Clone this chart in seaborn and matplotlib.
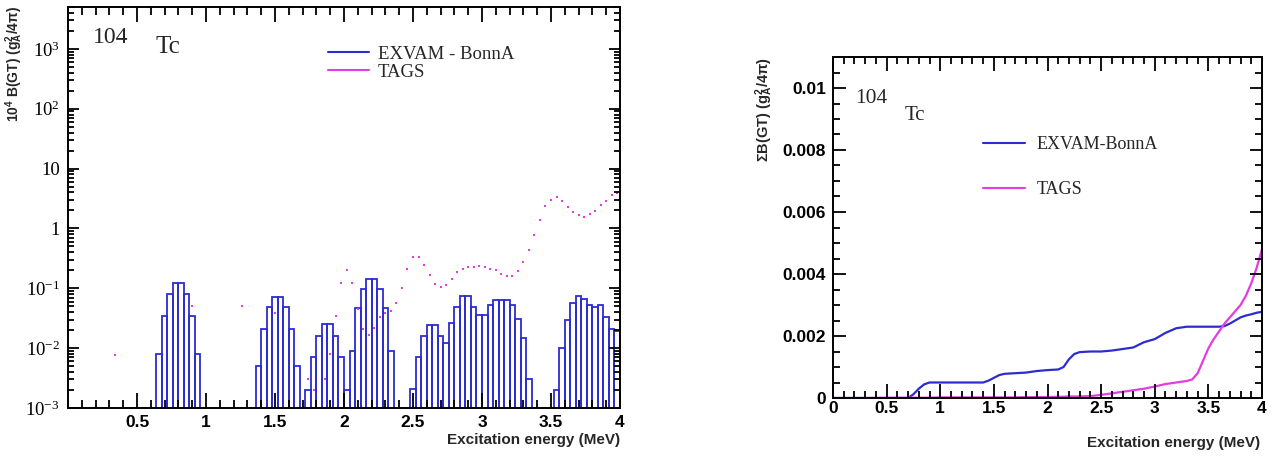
import numpy as np
import pandas as pd
import matplotlib
matplotlib.use("Agg")
import matplotlib.pyplot as plt
from matplotlib.lines import Line2D
from matplotlib.ticker import MultipleLocator, LogLocator, NullFormatter
import seaborn as sns

# EXVAM - BonnA: 10^4 B(GT) per 0.04 MeV bin (bin lower edges in MeV)
exvam_bin_lo = [0.64, 0.68, 0.72, 0.76, 0.80, 0.84, 0.88, 0.92,
                1.36, 1.40, 1.44, 1.48, 1.52, 1.56, 1.60, 1.64,
                1.72, 1.76, 1.80, 1.84, 1.88, 1.92, 1.96, 2.00,
                2.04, 2.08, 2.12, 2.16, 2.20, 2.24, 2.28, 2.32,
                2.48, 2.52, 2.56, 2.60, 2.64, 2.68, 2.72, 2.76, 2.80, 2.84, 2.88,
                2.92, 2.96, 3.00, 3.04, 3.08, 3.12, 3.16, 3.20, 3.24, 3.28, 3.32,
                3.52, 3.56, 3.60, 3.64, 3.68, 3.72, 3.76, 3.80, 3.84, 3.88, 3.92, 3.96]
exvam_bgt = [0.0079, 0.035, 0.080, 0.122, 0.122, 0.080, 0.035, 0.0079,
             0.005, 0.021, 0.048, 0.072, 0.072, 0.048, 0.021, 0.005,
             0.002, 0.007, 0.016, 0.025, 0.025, 0.016, 0.007, 0.002,
             0.0089, 0.046, 0.099, 0.145, 0.145, 0.099, 0.046, 0.0089,
             0.0021, 0.0072, 0.0158, 0.0248, 0.0248, 0.0158, 0.012, 0.026, 0.049, 0.0736, 0.0736,
             0.049, 0.036, 0.036, 0.052, 0.064, 0.064, 0.064, 0.052, 0.031, 0.015, 0.003,
             0.002, 0.0099, 0.030, 0.057, 0.0736, 0.065, 0.052, 0.048, 0.052, 0.033, 0.021, 0.0195]

# TAGS: 10^4 B(GT) at bin centres (MeV)
tags_e = [0.34, 0.90, 1.26, 1.50, 1.74, 1.78, 1.86, 1.90, 1.94, 1.98,
          2.02, 2.06, 2.10, 2.14, 2.18, 2.22, 2.26, 2.30, 2.34, 2.38,
          2.42, 2.46, 2.50, 2.54, 2.58, 2.62, 2.66, 2.70, 2.74, 2.78,
          2.82, 2.86, 2.90, 2.94, 2.98, 3.02, 3.06, 3.10, 3.14, 3.18,
          3.22, 3.26, 3.30, 3.34, 3.38, 3.42, 3.46, 3.50, 3.54, 3.58,
          3.62, 3.66, 3.70, 3.74, 3.78, 3.82, 3.86, 3.90, 3.94, 3.98]
tags_bgt = [0.0078, 0.050, 0.050, 0.038, 0.003, 0.002, 0.003, 0.0079, 0.034, 0.123,
            0.20, 0.123, 0.045, 0.0205, 0.0165, 0.0213, 0.0325, 0.039, 0.042, 0.057,
            0.103, 0.207, 0.333, 0.333, 0.248, 0.165, 0.120, 0.105, 0.115, 0.145,
            0.187, 0.213, 0.227, 0.227, 0.233, 0.227, 0.213, 0.200, 0.175, 0.158,
            0.158, 0.195, 0.275, 0.44, 0.79, 1.39, 2.33, 3.0, 3.33, 2.82,
            2.27, 1.87, 1.65, 1.58, 1.71, 1.94, 2.42, 2.86, 3.55, 3.88]

# Accumulated strength, sum B(GT) (g_A^2/4pi)
cum_e = [0.0, 0.3, 0.6, 0.7, 0.75, 0.8, 0.85, 0.9, 1.0, 1.2,
         1.4, 1.45, 1.5, 1.55, 1.6, 1.7, 1.8, 1.9, 2.0, 2.1,
         2.15, 2.2, 2.25, 2.3, 2.4, 2.5, 2.6, 2.7, 2.8, 2.9,
         3.0, 3.1, 3.2, 3.3, 3.35, 3.4, 3.45, 3.5, 3.55, 3.6,
         3.65, 3.7, 3.75, 3.8, 3.85, 3.9, 3.95, 4.0]
cum_exvam = [0.0, 0.0, 0.0, 0.0, 0.00012, 0.0003, 0.00044, 0.0005, 0.0005, 0.0005,
             0.0005, 0.00056, 0.00065, 0.00074, 0.00078, 0.0008, 0.00082, 0.00087, 0.0009, 0.00092,
             0.001, 0.00125, 0.00142, 0.00148, 0.0015, 0.0015, 0.00153, 0.00158, 0.00163, 0.0018,
             0.0019, 0.0021, 0.00225, 0.0023, 0.0023, 0.0023, 0.0023, 0.0023, 0.0023, 0.0023,
             0.00232, 0.0024, 0.0025, 0.0026, 0.00266, 0.0027, 0.00275, 0.00278]
cum_tags = [0.0, 0.0, 0.00001, 0.00001, 0.00001, 0.00001, 0.00001, 0.00001, 0.00002, 0.00002,
            0.00002, 0.00002, 0.00002, 0.00002, 0.00002, 0.00002, 0.00003, 0.00003, 0.00003, 0.00004,
            0.00004, 0.00005, 0.00005, 0.00005, 0.00006, 0.0001, 0.00015, 0.0002, 0.00025, 0.0003,
            0.00037, 0.00045, 0.0005, 0.00055, 0.0006, 0.0008, 0.0012, 0.0016, 0.0019, 0.00215,
            0.0024, 0.0026, 0.0028, 0.003, 0.0033, 0.0037, 0.0042, 0.0048]

left_yticks = [1e-3, 1e-2, 1e-1, 1, 10, 1e2, 1e3]
left_ylabels = ["$10^{-3}$", "$10^{-2}$", "$10^{-1}$", "1", "10", "$10^{2}$", "$10^{3}$"]
e_ticks = [0.5, 1.0, 1.5, 2.0, 2.5, 3.0, 3.5, 4.0]
e_labels = ["0.5", "1", "1.5", "2", "2.5", "3", "3.5", "4"]
right_yticks = [0.0, 0.002, 0.004, 0.006, 0.008, 0.01]
right_ylabels = ["0", "0.002", "0.004", "0.006", "0.008", "0.01"]

BLUE = "#2c2cd0"
MAGENTA = "#e23ce2"
SERIF = "Liberation Serif"

sns.set_theme(style="ticks")
plt.rcParams.update({
    "font.family": ["Liberation Sans", "DejaVu Sans"],
    "mathtext.fontset": "custom",
    "mathtext.rm": "Liberation Serif",
    "mathtext.it": "Liberation Serif:italic",
    "mathtext.bf": "Liberation Sans:bold",
    "mathtext.sf": "Liberation Sans",
    "axes.edgecolor": "black",
    "axes.linewidth": 1.4,
    "axes.axisbelow": False,
    "xtick.color": "black",
    "ytick.color": "black",
    "xtick.direction": "in",
    "ytick.direction": "in",
    "xtick.top": True,
    "ytick.right": True,
})

W, H = 1273, 457
fig = plt.figure(figsize=(W / 100, H / 100), dpi=100)
fig.patch.set_facecolor("white")


def axes_px(left, top, right, bottom):
    return fig.add_axes([left / W, 1 - bottom / H, (right - left) / W, (bottom - top) / H])


ax1 = axes_px(68, 7, 620, 408)
ax2 = axes_px(833, 57, 1262, 398)

# ---- left panel: strength distribution ----
bin_w = 0.04
edges = [round(v, 2) for v in np.arange(0.64, 4.0 + bin_w / 2, bin_w)]
hist_df = pd.DataFrame({"E": np.array(exvam_bin_lo) + bin_w / 2, "bgt": exvam_bgt})
ax1.set_yscale("log")
sns.histplot(data=hist_df, x="E", weights="bgt", bins=edges, element="bars",
             fill=False, color=BLUE, linewidth=1.3, ax=ax1)
sns.scatterplot(x=tags_e, y=tags_bgt, marker="s", s=4, color=MAGENTA,
                linewidth=0, legend=False, ax=ax1)

ax1.set_xlim(0, 4)
ax1.set_ylim(1e-3, 5e3)
ax1.set_xticks(e_ticks, e_labels, fontsize=12.5, fontweight="bold")
ax1.xaxis.set_minor_locator(MultipleLocator(0.1))
ax1.set_yticks(left_yticks, left_ylabels, fontsize=13.5, fontfamily=SERIF)
ax1.yaxis.set_minor_locator(LogLocator(base=10, subs=np.arange(2, 10), numticks=20))
ax1.yaxis.set_minor_formatter(NullFormatter())
ax1.set_xlabel("")
ax1.set_ylabel("")

ax1.text(0.045, 0.910, "104", transform=ax1.transAxes, fontfamily=SERIF,
         fontsize=17, va="baseline", ha="left")
ax1.text(0.158, 0.885, "Tc", transform=ax1.transAxes, fontfamily=SERIF,
         fontsize=18, va="baseline", ha="left")
ax1.legend(handles=[Line2D([], [], color=BLUE, lw=1.5), Line2D([], [], color=MAGENTA, lw=1.5)],
           labels=["EXVAM - BonnA", "TAGS"], loc="center left",
           bbox_to_anchor=(0.471, 0.860), frameon=False, borderpad=0, borderaxespad=0,
           handlelength=2.2, handletextpad=0.45, labelspacing=0.05,
           prop={"family": SERIF, "size": 13.5})

# ---- right panel: accumulated strength ----
sns.lineplot(x=cum_e, y=cum_exvam, color=BLUE, linewidth=1.6, estimator=None,
             sort=False, ax=ax2)
sns.lineplot(x=cum_e, y=cum_tags, color=MAGENTA, linewidth=1.6, estimator=None,
             sort=False, ax=ax2)
ax2.set_xlim(0, 4)
ax2.set_ylim(0, 0.011)
ax2.set_xticks([0.0] + e_ticks, ["0"] + e_labels, fontsize=12.5, fontweight="bold")
ax2.xaxis.set_minor_locator(MultipleLocator(0.1))
ax2.set_yticks(right_yticks, right_ylabels, fontsize=12.5, fontweight="bold")
ax2.yaxis.set_minor_locator(MultipleLocator(0.0005))
ax2.set_xlabel("")
ax2.set_ylabel("")

ax2.text(0.051, 0.865, "104", transform=ax2.transAxes, fontfamily=SERIF,
         fontsize=15.5, va="baseline", ha="left")
ax2.text(0.168, 0.815, "Tc", transform=ax2.transAxes, fontfamily=SERIF,
         fontsize=15, va="baseline", ha="left")
ax2.legend(handles=[Line2D([], [], color=BLUE, lw=1.5), Line2D([], [], color=MAGENTA, lw=1.5)],
           labels=["EXVAM-BonnA", "TAGS"], loc="center left",
           bbox_to_anchor=(0.350, 0.677), frameon=False, borderpad=0, borderaxespad=0,
           handlelength=2.3, handletextpad=0.65, labelspacing=1.55,
           prop={"family": SERIF, "size": 13})

# ---- common axis styling: inward ticks on all four sides ----
for ax in (ax1, ax2):
    ax.tick_params(which="both", direction="in", top=True, right=True,
                   bottom=True, left=True, color="black", width=1.3)
    for sp in ax.spines.values():
        sp.set_linewidth(1.4)
        sp.set_color("black")

ax1.tick_params(axis="x", which="major", length=11, pad=5)
ax1.tick_params(axis="x", which="minor", length=5.5)
ax1.tick_params(axis="y", which="major", length=8, pad=6)
ax1.tick_params(axis="y", which="minor", length=4)
ax2.tick_params(axis="x", which="major", length=10, pad=2)
ax2.tick_params(axis="x", which="minor", length=5)
ax2.tick_params(axis="y", which="major", length=9, pad=5)
ax2.tick_params(axis="y", which="minor", length=5)

xlab = "Excitation energy (MeV)"
ax1.set_xlabel(xlab, loc="right", fontsize=11, fontweight="bold")
ax1.xaxis.set_label_coords(1.0, -0.062)
ax2.set_xlabel(xlab, loc="right", fontsize=11, fontweight="bold")
ax2.xaxis.set_label_coords(0.995, -0.11)

fig.text(14 / W, 1 - 6 / H, r"10$^{\mathbf{4}}$ B(GT) (g$^{\mathbf{2}}_{\mathbf{A}}$/4π)",
         rotation=90, ha="center", va="top", fontsize=10, fontweight="bold")
fig.text(764 / W, 1 - 57 / H, r"ΣB(GT) (g$^{\mathbf{2}}_{\mathbf{A}}$/4π)",
         rotation=90, ha="center", va="top", fontsize=10.5, fontweight="bold")

fig.savefig("out.png", dpi=100, facecolor="white")
